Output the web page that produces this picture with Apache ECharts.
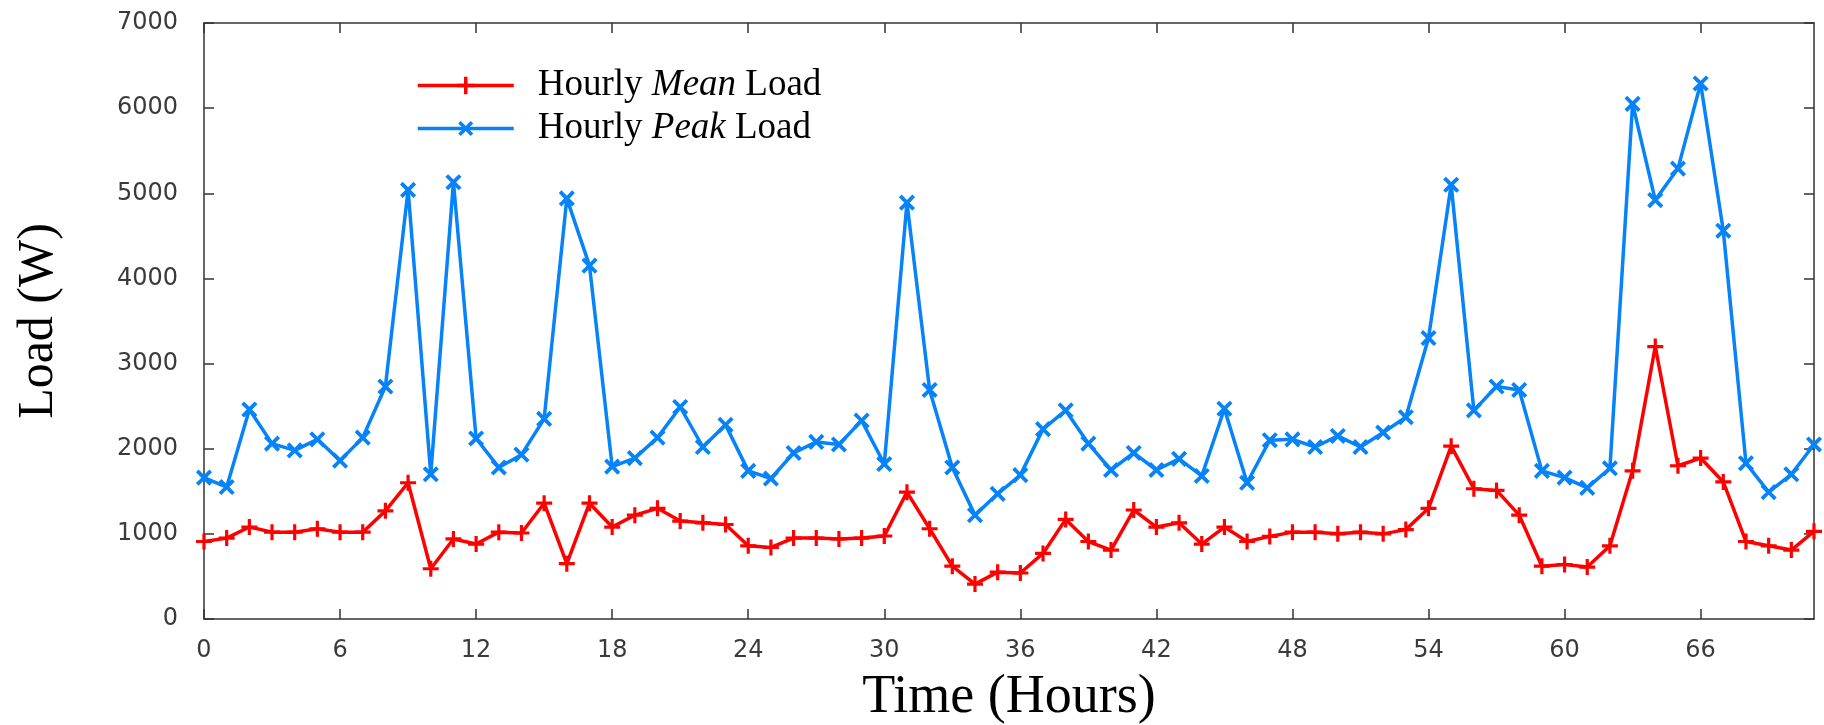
<!DOCTYPE html>
<html>
<head>
<meta charset="utf-8">
<script src="https://cdn.jsdelivr.net/npm/echarts@6/dist/echarts.min.js"></script>
<style>
  html, body { margin: 0; padding: 0; background: #fff; }
  #chart { width: 1824px; height: 725px; }
</style>
</head>
<body>
<div id="chart"></div>
<script>
// hours on the x axis
var hours = [0, 1, 2, 3, 4, 5, 6, 7, 8, 9, 10, 11, 12, 13, 14, 15, 16, 17, 18, 19, 20, 21, 22, 23,
             24, 25, 26, 27, 28, 29, 30, 31, 32, 33, 34, 35, 36, 37, 38, 39, 40, 41, 42, 43, 44, 45, 46, 47,
             48, 49, 50, 51, 52, 53, 54, 55, 56, 57, 58, 59, 60, 61, 62, 63, 64, 65, 66, 67, 68, 69, 70, 71];

// hourly mean load (W)
var meanLoad = [910, 950, 1080, 1020, 1020, 1060, 1020, 1020, 1270, 1600, 590, 940,
                880, 1020, 1010, 1360, 650, 1360, 1080, 1220, 1300, 1150, 1130, 1110,
                860, 840, 950, 950, 940, 950, 975, 1490, 1060, 620, 410, 550,
                540, 770, 1170, 910, 810, 1280, 1080, 1130, 880, 1080, 910, 970,
                1020, 1020, 1000, 1020, 1000, 1050, 1300, 2030, 1530, 1510, 1220, 620,
                640, 610, 860, 1740, 3200, 1800, 1890, 1610, 910, 860, 810, 1030];

// hourly peak load (W)
var peakLoad = [1660, 1550, 2460, 2060, 1980, 2110, 1860, 2130, 2730, 5040, 1700, 5130,
                2120, 1780, 1930, 2350, 4940, 4150, 1790, 1890, 2130, 2490, 2020, 2280,
                1740, 1650, 1950, 2080, 2050, 2330, 1820, 4890, 2690, 1780, 1220, 1470,
                1690, 2230, 2450, 2060, 1750, 1950, 1750, 1880, 1680, 2470, 1600, 2100,
                2110, 2020, 2150, 2020, 2190, 2370, 3300, 5100, 2450, 2730, 2690, 1740,
                1660, 1540, 1770, 6050, 4920, 5290, 6290, 4560, 1830, 1490, 1700, 2050];

var yTicks = [0, 1000, 2000, 3000, 4000, 5000, 6000, 7000];

var axisColor = '#333';
var labelFont = 'DejaVu Sans';
var serif = 'Liberation Serif';
var plusPath = 'path://M4,0H6V4H10V6H6V10H4V6H0V4H4Z';

var chart = echarts.init(document.getElementById('chart'));

function boxAxisLine() {
    return { show: true, onZero: false, lineStyle: { color: axisColor, width: 1.5 } };
}

function boxTick(interval) {
    return { show: true, inside: true, interval: interval, length: 10, lineStyle: { color: axisColor, width: 1.5 } };
}

var option = {
    backgroundColor: '#fff',
    animation: false,
    grid: {
        left: 204, right: 10, top: 23, bottom: 106,
        outerBoundsMode: 'none'
    },
    legend: {
        orient: 'vertical',
        left: 411,
        top: 62,
        itemWidth: 96,
        itemHeight: 22,
        itemGap: 6,
        lineStyle: { width: 3.5 },
        data: ['Hourly Mean Load', 'Hourly Peak Load'],
        formatter: function (name) {
            var w = name.split(' ');
            return '{n|' + w[0] + ' }{i|' + w[1] + '}{n| ' + w[2] + '}';
        },
        textStyle: {
            padding: [0, 0, 0, 19],
            rich: {
                n: { fontFamily: serif, fontSize: 37, color: '#000' },
                i: { fontFamily: serif, fontSize: 37, fontStyle: 'italic', color: '#000' }
            }
        }
    },
    xAxis: [
        {
            type: 'category',
            data: hours,
            boundaryGap: false,
            position: 'bottom',
            axisLine: boxAxisLine(),
            axisTick: boxTick(5),
            axisLabel: { interval: 5, margin: 20, fontFamily: labelFont, fontSize: 24, color: '#3a3a3a' },
            splitLine: { show: false },
            name: 'Time (Hours)',
            nameLocation: 'middle',
            nameGap: 52,
            nameTextStyle: { fontFamily: serif, fontSize: 54, color: '#000' }
        },
        {
            type: 'category',
            data: hours,
            boundaryGap: false,
            position: 'top',
            axisLine: boxAxisLine(),
            axisTick: boxTick(5),
            axisLabel: { show: false },
            splitLine: { show: false }
        }
    ],
    yAxis: [
        {
            type: 'value',
            min: yTicks[0],
            max: yTicks[yTicks.length - 1],
            interval: 1000,
            position: 'left',
            axisLine: boxAxisLine(),
            axisTick: boxTick(),
            axisLabel: {
                margin: 26, fontFamily: labelFont, fontSize: 24, color: '#3a3a3a',
                formatter: function (v) { return String(v); }
            },
            splitLine: { show: false },
            name: 'Load (W)',
            nameLocation: 'middle',
            nameGap: 140,
            nameTextStyle: { fontFamily: serif, fontSize: 50, color: '#000' }
        },
        {
            type: 'value',
            min: yTicks[0],
            max: yTicks[yTicks.length - 1],
            interval: 1000,
            position: 'right',
            axisLine: boxAxisLine(),
            axisTick: boxTick(),
            axisLabel: { show: false },
            splitLine: { show: false }
        }
    ],
    series: [
        {
            name: 'Hourly Mean Load',
            type: 'line',
            data: meanLoad,
            symbol: plusPath,
            symbolSize: 16,
            showAllSymbol: true,
            lineStyle: { color: '#ff0000', width: 3.5 },
            itemStyle: { color: '#ff0000' }
        },
        {
            name: 'Hourly Peak Load',
            type: 'line',
            data: peakLoad,
            symbol: plusPath,
            symbolSize: 19,
            symbolRotate: 45,
            showAllSymbol: true,
            lineStyle: { color: '#0683f9', width: 3.5 },
            itemStyle: { color: '#0683f9' }
        }
    ]
};

chart.setOption(option);
window.onresize = chart.resize;
</script>
</body>
</html>
